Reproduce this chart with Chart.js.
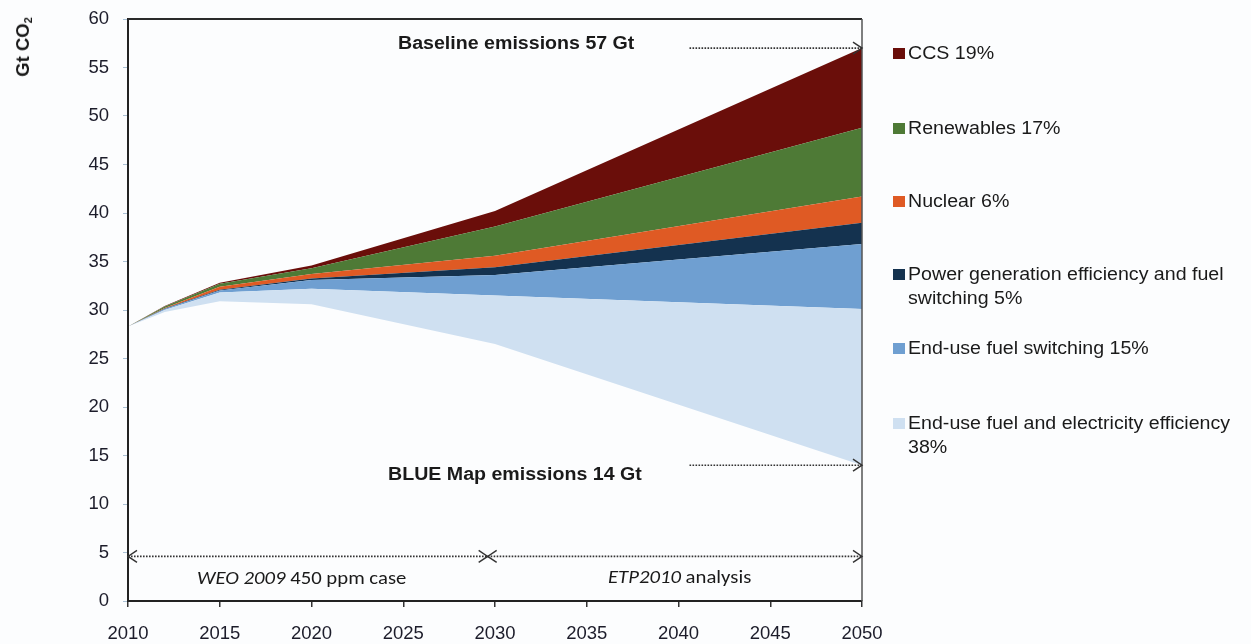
<!DOCTYPE html>
<html>
<head>
<meta charset="utf-8">
<script src="https://cdn.jsdelivr.net/npm/chart.js@4.4.1/dist/chart.umd.min.js"></script>
<style>
  html, body { margin: 0; padding: 0; background: #fcfdfe; }
  #wrap { position: relative; width: 1251px; height: 644px; overflow: hidden; background: #fcfdfe; }
  #c { position: absolute; left: 0; top: 0; }
  .txt { position: absolute; white-space: nowrap; font-family: "Liberation Sans", Arial, sans-serif; color: #1a1a1a; transform-origin: 0 0; }
  .s { transform: scaleX(1.12); }
  .leg { font-size: 17.5px; line-height: 23.5px; left: 908px; }
  .sq { position: absolute; left: 893px; width: 12px; height: 11px; }
  .b { font-weight: bold; font-size: 17.5px; line-height: 1; }
  .cal { font-family: Carlito, "Liberation Sans Narrow", "Open Sans", sans-serif; font-size: 18.5px; line-height: 1; }
  #ytitle { position: absolute; left: 23px; top: 47px; transform: translate(-50%, -50%) rotate(-90deg); font-family: "Liberation Sans", Arial, sans-serif; font-weight: bold; font-size: 18.5px; white-space: nowrap; color: #1a1a1a; }
  #ytitle sub { font-size: 11px; vertical-align: -3px; }
</style>
</head>
<body>
<div id="wrap">
  <canvas id="c" width="1251" height="644"></canvas>
  <div id="ytitle">Gt CO<sub>2</sub></div>
  <div id="legend"></div>
  <div class="txt s b" style="left:398px; top:35px;">Baseline emissions 57 Gt</div>
  <div class="txt s b" style="left:388px; top:466px;">BLUE Map emissions 14 Gt</div>
  <div class="txt cal s" style="left:197px; top:569px;"><i>WEO 2009</i> 450 ppm case</div>
  <div class="txt cal s" style="left:608px; top:568px;"><i>ETP2010</i> analysis</div>
</div>
<script>
// ---- data (Gt CO2, absolute boundary of each wedge) ----
const years      = [2010, 2012, 2015, 2020, 2030, 2050];
const blueMap    = [28.3, 29.8, 30.9, 30.6, 26.5, 14.0];  // BLUE Map emissions (bottom)
const effTop     = [28.3, 30.0, 31.8, 32.2, 31.5, 30.1];  // top of end-use efficiency wedge
const switchTop  = [28.3, 30.1, 32.0, 33.1, 33.6, 36.8];  // top of end-use fuel switching wedge
const powerTop   = [28.3, 30.15, 32.1, 33.25, 34.4, 39.0]; // top of power generation wedge
const nuclearTop = [28.3, 30.2, 32.4, 33.7, 35.6, 41.7];  // top of nuclear wedge
const renewTop   = [28.3, 30.35, 32.7, 34.3, 38.6, 48.8]; // top of renewables wedge
const baseline   = [28.3, 30.4, 32.8, 34.6, 40.2, 57.0];  // baseline emissions (top of CCS)

const xTicks = [2010, 2015, 2020, 2025, 2030, 2035, 2040, 2045, 2050];
const yTicks = [0, 5, 10, 15, 20, 25, 30, 35, 40, 45, 50, 55, 60];

const wedgeNames = [
  "End-use fuel and electricity efficiency 38%",
  "End-use fuel switching 15%",
  "Power generation efficiency and fuel switching 5%",
  "Nuclear 6%",
  "Renewables 17%",
  "CCS 19%"
];
const wedgeColors = ["#cfe0f1", "#6f9fd1", "#14324f", "#df5a24", "#4e7a36", "#6a0e0a"];

// annotation arrows (data coordinates)
const arrows = [
  { from: [2040.6, 57], to: [2050, 57], heads: ["end"] },
  { from: [2040.6, 14], to: [2050, 14], heads: ["end"] },
  { from: [2010, 4.6], to: [2029.6, 4.6], heads: ["start", "end"] },
  { from: [2029.6, 4.6], to: [2050, 4.6], heads: ["start", "end"] }
];

// ---- build datasets ----
const pts = arr => years.map((y, i) => ({ x: y, y: arr[i] }));
const bounds = [effTop, switchTop, powerTop, nuclearTop, renewTop, baseline];
const datasets = [{
  label: "BLUE Map emissions", data: pts(blueMap), borderWidth: 0, pointRadius: 0, fill: false,
  borderColor: "rgba(0,0,0,0)"
}];
bounds.forEach((b, i) => {
  datasets.push({
    label: wedgeNames[i], data: pts(b), borderWidth: 0, pointRadius: 0,
    borderColor: wedgeColors[i], backgroundColor: wedgeColors[i], fill: "-1", tension: 0
  });
});

// ---- legend (HTML, CCS first) ----
const legendTops = [42, 117, 190, 263, 337, 412];
const legendLines = {
  "Power generation efficiency and fuel switching 5%": "Power generation efficiency and fuel<br>switching 5%",
  "End-use fuel and electricity efficiency 38%": "End-use fuel and electricity efficiency<br>38%"
};
const legEl = document.getElementById("legend");
[...wedgeNames].reverse().forEach((name, k) => {
  const color = wedgeColors[wedgeNames.length - 1 - k];
  const top = legendTops[k];
  const sq = document.createElement("div");
  sq.className = "sq";
  sq.style.top = (top + 6) + "px";
  sq.style.background = color;
  legEl.appendChild(sq);
  const t = document.createElement("div");
  t.className = "txt s leg";
  t.style.top = top + "px";
  t.innerHTML = legendLines[name] || name;
  legEl.appendChild(t);
});

// ---- plugin: frame + dotted arrows ----
const decor = {
  id: "decor",
  afterDatasetsDraw(chart) {
    const { ctx, chartArea: a, scales: { x, y } } = chart;
    ctx.save();
    ctx.strokeStyle = "#2a2a2a";
    ctx.lineWidth = 2;
    ctx.beginPath();
    ctx.moveTo(a.left, a.top); ctx.lineTo(a.right, a.top);
    ctx.stroke();
    ctx.lineWidth = 1.5;
    ctx.strokeStyle = "#555";
    ctx.beginPath();
    ctx.moveTo(a.right, a.top); ctx.lineTo(a.right, a.bottom);
    ctx.stroke();
    arrows.forEach(ar => {
      const x1 = x.getPixelForValue(ar.from[0]), y1 = y.getPixelForValue(ar.from[1]);
      const x2 = x.getPixelForValue(ar.to[0]), y2 = y.getPixelForValue(ar.to[1]);
      ctx.strokeStyle = "#333";
      ctx.lineWidth = 1.6;
      ctx.setLineDash([1.6, 1.4]);
      ctx.beginPath(); ctx.moveTo(x1, y1); ctx.lineTo(x2, y2); ctx.stroke();
      ctx.setLineDash([]);
      ctx.lineWidth = 1.4;
      ar.heads.forEach(h => {
        ctx.beginPath();
        if (h === "end") {
          ctx.moveTo(x2 - 9, y2 - 6); ctx.lineTo(x2, y2); ctx.lineTo(x2 - 9, y2 + 6);
        } else {
          ctx.moveTo(x1 + 9, y1 - 6); ctx.lineTo(x1, y1); ctx.lineTo(x1 + 9, y1 + 6);
        }
        ctx.stroke();
      });
    });
    ctx.restore();
  }
};

new Chart(document.getElementById("c"), {
  type: "line",
  data: { datasets },
  options: {
    responsive: false,
    animation: false,
    events: [],
    layout: { padding: { left: 0, right: 389, top: 19, bottom: 0 } },
    plugins: { legend: { display: false }, tooltip: { enabled: false } },
    elements: { line: { tension: 0 } },
    scales: {
      x: {
        type: "linear", min: 2010, max: 2050,
        afterBuildTicks: ax => { ax.ticks = xTicks.map(v => ({ value: v })); },
        afterFit: ax => { ax.height = 43; ax.paddingLeft = 0; ax.paddingRight = 0; },
        grid: { display: true, drawOnChartArea: false, drawTicks: true, tickLength: 6, color: "#333", lineWidth: 1.5 },
        border: { display: true, color: "#222", width: 2 },
        ticks: { color: "#1c1c2a", font: { family: "Liberation Sans", size: 18.5 }, padding: 16, maxRotation: 0, autoSkip: false,
                 callback: v => String(v) }
      },
      y: {
        type: "linear", min: 0, max: 60,
        afterBuildTicks: ax => { ax.ticks = yTicks.map(v => ({ value: v })); },
        afterFit: ax => { ax.width = 128; ax.paddingTop = 0; ax.paddingBottom = 0; },
        grid: { display: true, drawOnChartArea: false, drawTicks: true, tickLength: 5, color: "#a9c0d4", lineWidth: 1 },
        border: { display: true, color: "#222", width: 2 },
        ticks: { color: "#1c1c2a", font: { family: "Liberation Sans", size: 18.5 }, padding: 14, autoSkip: false,
                 callback: v => String(v) }
      }
    }
  },
  plugins: [decor]
});
</script>
</body>
</html>
